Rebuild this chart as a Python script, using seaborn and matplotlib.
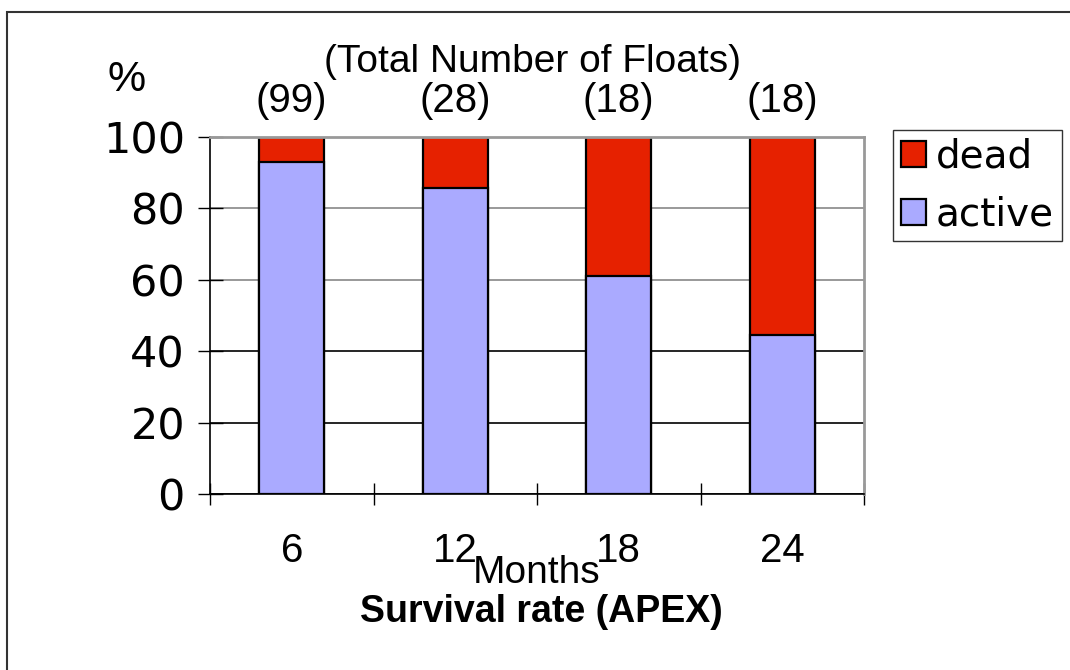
import matplotlib
matplotlib.use("Agg")
import matplotlib.pyplot as plt
import seaborn as sns
from matplotlib.patches import Patch, Rectangle

months = ["6", "12", "18", "24"]
active = [92.9, 85.7, 61.1, 44.4]
dead = [7.1, 14.3, 38.9, 55.6]
n_floats = ["(99)", "(28)", "(18)", "(18)"]

dead_color = "#E62100"
active_color = "#AAAAFF"

sns.set_style("white")
plt.rcParams["font.family"] = ["Liberation Sans", "DejaVu Sans"]
plt.rcParams["text.color"] = "black"
plt.rcParams["xtick.color"] = "black"
plt.rcParams["ytick.color"] = "black"

fig = plt.figure(figsize=(10.7, 6.7), dpi=100)
ax = fig.add_axes([210 / 1070, 1 - 494 / 670, 654 / 1070, 357 / 670])

totals = [a + d for a, d in zip(active, dead)]
sns.barplot(x=months, y=totals, color=dead_color, width=0.4, saturation=1,
            edgecolor="black", linewidth=1.6, ax=ax)
sns.barplot(x=months, y=active, color=active_color, width=0.4, saturation=1,
            edgecolor="black", linewidth=1.6, ax=ax)

ax.set_xlim(-0.5, 3.5)
ax.set_ylim(0, 100)
ax.set_yticks([0, 20, 40, 60, 80, 100])
ax.set_xticks(range(4))
ax.set_xticklabels(months, fontsize=29, family="Liberation Sans")
ax.set_xticks([-0.5, 0.5, 1.5, 2.5, 3.5], minor=True)
ax.tick_params(axis="x", which="major", length=0, pad=27)
ax.tick_params(axis="x", which="minor", direction="inout", length=16, width=1,
               color="black", bottom=True)
ax.tick_params(axis="y", direction="inout", length=18, width=1, color="black", pad=9,
               left=True)
for lbl in ax.get_yticklabels():
    lbl.set_family("DejaVu Sans")
    lbl.set_fontsize(31)
ax.set_xlabel("")
ax.set_ylabel("")

ax.yaxis.grid(True, linewidth=1.2)
ax.set_axisbelow(True)
for line, t in zip(ax.get_ygridlines(), ax.get_yticks()):
    line.set_color("#888888" if t >= 60 else "black")

ax.spines["top"].set_color("#999999")
ax.spines["right"].set_color("#999999")
ax.spines["top"].set_linewidth(2)
ax.spines["right"].set_linewidth(2)
ax.spines["left"].set_color("black")
ax.spines["bottom"].set_color("black")
ax.spines["left"].set_linewidth(1.2)
ax.spines["bottom"].set_linewidth(1.2)

for i, s in enumerate(n_floats):
    ax.annotate(s, xy=(i, 100), xytext=(0, 12), textcoords="offset points",
                ha="center", va="bottom", fontsize=29)

fig.text(127 / 1070, 1 - 80 / 670, "%", ha="center", va="center", fontsize=31)
fig.text(533 / 1070, 1 - 62 / 670, "(Total Number of Floats)", ha="center",
         va="center", fontsize=28)
fig.text(537 / 1070, 1 - 573 / 670, "Months", ha="center", va="center", fontsize=28)
fig.text(541 / 1070, 1 - 612 / 670, "Survival rate (APEX)", ha="center",
         va="center", fontsize=27, fontweight="bold")

handles = [Patch(facecolor=dead_color, edgecolor="black", linewidth=1.6, label="dead"),
           Patch(facecolor=active_color, edgecolor="black", linewidth=1.6, label="active")]
leg = fig.legend(handles=handles, loc="upper left",
                 bbox_to_anchor=(893 / 1070, 1 - 130 / 670),
                 prop={"family": "DejaVu Sans", "size": 28},
                 handlelength=0.65, handleheight=0.65, handletextpad=0.25,
                 labelspacing=0.5, borderpad=0.2, borderaxespad=0,
                 frameon=True, fancybox=False, shadow=False)
leg.get_frame().set_edgecolor("black")
leg.get_frame().set_linewidth(1)

fig.patches.append(Rectangle((7 / 1070, -0.2), 1.2, 1.2 - 12 / 670,
                             transform=fig.transFigure, fill=False,
                             edgecolor="#333333", linewidth=1.5))

fig.savefig("out.png", dpi=100, facecolor="white")
